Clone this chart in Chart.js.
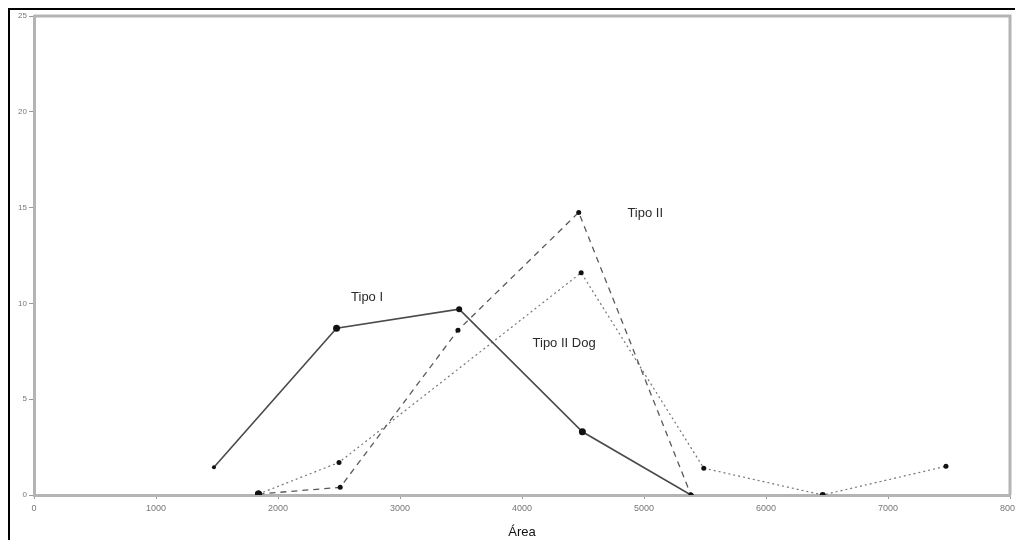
<!DOCTYPE html>
<html>
<head>
<meta charset="utf-8">
<script src="https://cdn.jsdelivr.net/npm/chart.js"></script>
<style>
  html, body { margin: 0; padding: 0; background: #fff; }
  #wrap { position: relative; width: 1015px; height: 540px; overflow: hidden; }
  #frame { position: absolute; left: 8px; top: 8px; width: 1020px; height: 540px;
           border-left: 2px solid #000; border-top: 2px solid #000; pointer-events: none; }
  canvas { position: absolute; left: 0; top: 0; }
</style>
</head>
<body>
<div id="wrap">
  <canvas id="chart" width="1015" height="540"></canvas>
  <div id="frame"></div>
</div>
<script>
// values (x = Área, y = count)
const tipoIX = [1475, 2480, 3485, 4495, 5385];
const tipoIY = [1.45, 8.7, 9.7, 3.3, 0];

const tipoIIX = [1840, 2510, 3475, 4465, 5385];
const tipoIIY = [0.05, 0.4, 8.6, 14.75, 0];

const tipoIIDogX = [1840, 2500, 4485, 5490, 6465, 7475];
const tipoIIDogY = [0.05, 1.7, 11.6, 1.4, 0, 1.5];

const xTicks = [0, 1000, 2000, 3000, 4000, 5000, 6000, 7000, 8000];
const yTicks = [0, 5, 10, 15, 20, 25];

const labelText = ["Tipo I", "Tipo II", "Tipo II Dog"];
const labelX = [2730, 5010, 4345];
const labelY = [10.3, 14.7, 7.9];

function pts(xs, ys) {
  return xs.map((x, i) => ({ x: x, y: ys[i] }));
}

const framePlugin = {
  id: "frame",
  afterDatasetsDraw(chart) {
    const a = chart.chartArea;
    const ctx = chart.ctx;
    ctx.save();
    ctx.strokeStyle = "#b4b4b4";
    ctx.lineWidth = 3;
    ctx.beginPath();
    ctx.moveTo(a.left, a.top);
    ctx.lineTo(a.right, a.top);
    ctx.lineTo(a.right, a.bottom);
    ctx.stroke();

    const xs = chart.scales.x, ys = chart.scales.y;
    ctx.fillStyle = "#2a2a2a";
    ctx.font = "13px 'Liberation Sans', Arial, sans-serif";
    ctx.textAlign = "center";
    ctx.textBaseline = "middle";
    labelText.forEach((t, i) => {
      ctx.fillText(t, xs.getPixelForValue(labelX[i]), ys.getPixelForValue(labelY[i]));
    });
    ctx.restore();
  }
};

const lineColor = "#4a4a4a";

new Chart(document.getElementById("chart"), {
  type: "scatter",
  data: {
    datasets: [
      {
        label: "Tipo I",
        data: pts(tipoIX, tipoIY),
        showLine: true,
        borderColor: lineColor,
        borderWidth: 1.6,
        pointRadius: [2, 3.5, 3, 3.5, 2.5],
        pointBackgroundColor: "#111",
        pointBorderWidth: 0
      },
      {
        label: "Tipo II",
        data: pts(tipoIIX, tipoIIY),
        showLine: true,
        borderColor: "#5a5a5a",
        borderWidth: 1.3,
        borderDash: [6, 5],
        pointRadius: [3.5, 2.5, 2.5, 2.5, 2.5],
        pointBackgroundColor: "#111",
        pointBorderWidth: 0
      },
      {
        label: "Tipo II Dog",
        data: pts(tipoIIDogX, tipoIIDogY),
        showLine: true,
        borderColor: "#777",
        borderWidth: 1.2,
        borderDash: [2, 3],
        pointRadius: [3.5, 2.5, 2.5, 2.5, 3, 2.5],
        pointBackgroundColor: "#111",
        pointBorderWidth: 0
      }
    ]
  },
  options: {
    responsive: false,
    animation: false,
    layout: { padding: { left: 0, top: 16, right: 5, bottom: 0 } },
    plugins: {
      legend: { display: false },
      tooltip: { enabled: false }
    },
    scales: {
      x: {
        type: "linear",
        min: 0,
        max: 8000,
        afterBuildTicks(axis) {
          axis.ticks = xTicks.map(v => ({ value: v }));
        },
        afterFit(axis) {
          axis.height = 45;
          axis.paddingLeft = 0;
          axis.paddingRight = 0;
        },
        border: { color: "#b4b4b4", width: 3 },
        grid: { drawOnChartArea: false, color: "#999", tickLength: 4, tickWidth: 1 },
        ticks: {
          color: "#777",
          font: { size: 9, family: "'Liberation Sans', Arial, sans-serif" },
          padding: 4,
          maxRotation: 0,
          callback: v => String(v)
        },
        title: {
          display: true,
          text: "Área",
          color: "#111",
          font: { size: 13, family: "'Liberation Sans', Arial, sans-serif" },
          padding: { top: 6, bottom: 0 }
        }
      },
      y: {
        type: "linear",
        min: 0,
        max: 25,
        afterBuildTicks(axis) {
          axis.ticks = yTicks.map(v => ({ value: v }));
        },
        afterFit(axis) { axis.width = 34; },
        border: { color: "#b4b4b4", width: 3 },
        grid: { drawOnChartArea: false, color: "#999", tickLength: 5, tickWidth: 1 },
        ticks: {
          color: "#777",
          font: { size: 8, family: "'Liberation Sans', Arial, sans-serif" },
          padding: 2
        }
      }
    }
  },
  plugins: [framePlugin]
});
</script>
</body>
</html>
